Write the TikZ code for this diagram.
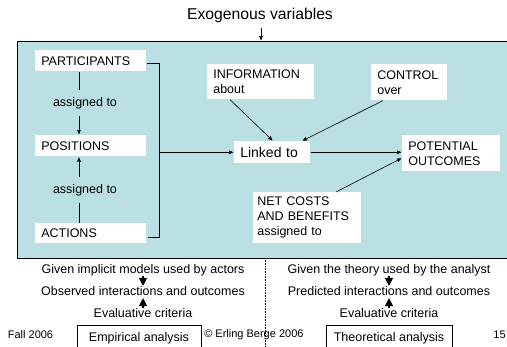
\documentclass[tikz,border=0pt]{standalone}
\usepackage{fontspec}
\setmainfont{Liberation Sans}
\usetikzlibrary{positioning,calc,arrows,arrows.meta}
\definecolor{panelblue}{RGB}{187,224,227}

\begin{document}
\begin{tikzpicture}[x=1pt,y=-1pt,->,>=stealth',shorten >=1pt,
  line width=0.6pt,
  var node/.style={fill=white,anchor=north west,align=left,
    inner xsep=6pt,inner ysep=0pt,text width=#1,
    font=\fontsize{12.5}{15}\selectfont},
  label node/.style={fill=panelblue,inner xsep=1pt,inner ysep=7pt,
    font=\fontsize{12.5}{15}\selectfont},
  note node/.style={inner sep=0pt,text height=9pt,text depth=2.5pt,
    font=\fontsize{12.5}{15}\selectfont},
  box node/.style={draw,line width=0.8pt,anchor=north,inner sep=0pt,
    minimum height=26pt,font=\fontsize{12.5}{15}\selectfont},
  foot node/.style={inner sep=0pt,font=\fontsize{11}{13}\selectfont},
  big arrow/.style={-{Triangle[length=8pt,width=8pt]},shorten >=0pt,
    line width=1.2pt}]

  \useasboundingbox (0,0) rectangle (507,347);

  \node[draw,fill=panelblue,anchor=north west,inner sep=0pt,line width=0.8pt,
    minimum width=510pt,minimum height=217pt] (panel) at (17,41) {};
  \node[inner sep=0pt,font=\fontsize{15.7}{18}\selectfont] (exo) at (260,15)
    {Exogenous variables};
  \draw ([xshift=1pt,yshift=-5pt]exo.south) -- ([xshift=1pt]exo.south |- panel.north);

  \node[var node=99,minimum height=21pt] (part) at (35,50) {PARTICIPANTS};
  \node[var node=99,minimum height=21pt] (pos) at (35,135) {POSITIONS};
  \node[var node=99,minimum height=20pt] (act) at (35,223) {ACTIONS};
  \node[var node=95,minimum height=35pt] (info) at (207,64) {INFORMATION\\about};
  \node[var node=64,minimum height=36pt] (ctrl) at (371,64) {CONTROL\\over};
  \node[var node=64,minimum height=22pt,font=\fontsize{14}{16}\selectfont]
    (link) at (234,141) {Linked to};
  \node[var node=86,minimum height=36pt] (outc) at (402,135) {POTENTIAL\\OUTCOMES};
  \node[var node=100,inner xsep=4pt,minimum height=51pt] (cost) at (253,192)
    {NET COSTS\\AND BENEFITS\\assigned to};

  % left column
  \draw ([xshift=44pt]part.south west) -- node[label node,xshift=6pt] {assigned to}
    ([xshift=44pt]pos.north west);
  \draw ([xshift=44pt]act.north west) -- node[label node,xshift=6pt] {assigned to}
    ([xshift=44pt]pos.south west);
  \draw[-] ([yshift=-3pt]part.east) -- ++(13,0) coordinate (bar top)
    |- ([yshift=-4pt]act.east);
  \draw (bar top |- link.west) -- (link.west);

  % into and out of the link
  \draw ([xshift=23pt]info.south west) -- ([xshift=39pt]link.north west);
  \draw ([xshift=12pt]ctrl.south west) -- ([xshift=68pt]link.north west);
  \draw (link.east) -- (link.east -| outc.west);
  \draw ([xshift=83pt]cost.north west) -- ([yshift=-23pt]outc.north west);

  % bottom half
  \coordinate (split top) at (265,258);
  \coordinate (split end) at (265,350);
  \draw[-,densely dotted] (split top) -- (split end);

  \node[note node] (given) at (143,270) {Given implicit models used by actors};
  \node[note node] (seen) at (143,292) {Observed interactions and outcomes};
  \node[note node] (crit) at (143,314) {Evaluative criteria};
  \draw[big arrow] (given.south) -- (seen.north);
  \draw[big arrow] (crit.north) -- (seen.south);
  \node[box node,minimum width=124pt] (emp) at (139,325) {Empirical analysis};

  \node[note node] (theory) at (389,270) {Given the theory used by the analyst};
  \node[note node] (pred) at (389,292) {Predicted interactions and outcomes};
  \node[note node] (crit2) at (389,314) {Evaluative criteria};
  \draw[big arrow] (theory.south) -- (pred.north);
  \draw[big arrow] (crit2.north) -- (pred.south);
  \node[box node,minimum width=126pt] (theo) at (389,325) {Theoretical analysis};

  \node[foot node] (date) at (30.5,335) {Fall 2006};
  \node[foot node,anchor=west] (copy) at (204,335) {© Erling Berge 2006};
  \node[foot node] (page) at (499.5,335) {15};
\end{tikzpicture}
\end{document}
